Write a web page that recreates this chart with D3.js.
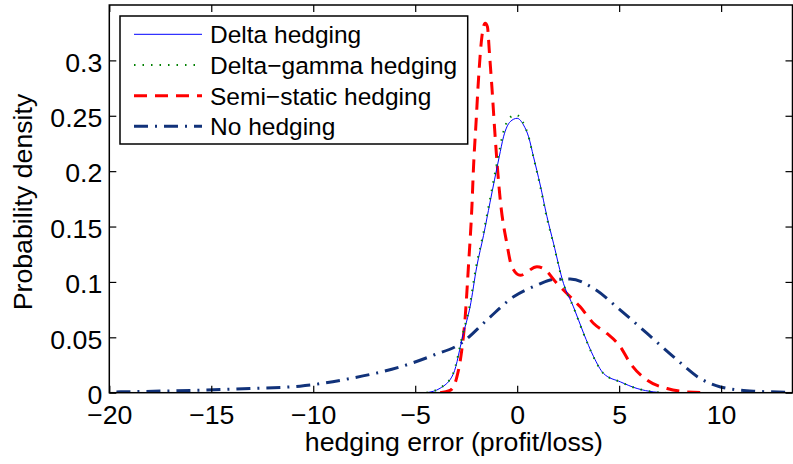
<!DOCTYPE html>
<html>
<head>
<meta charset="utf-8">
<script src="https://cdn.jsdelivr.net/npm/d3@7"></script>
<style>
  body { margin: 0; background: #fff; }
  svg { display: block; font-family: "Liberation Sans", Arial, Helvetica, sans-serif; }
</style>
</head>
<body>
<div id="chart"></div>
<script>
// density curves (x = hedging error, y = density)
var deltaX = [-4.45, -3.78, -3.13, -2.64, -2.31, -1.98, -1.65, -1.33, -0.88, -0.67, -0.34, 0, 0.31, 0.56, 0.8, 1.13, 1.46, 1.78, 2.27, 2.76, 3.26, 3.75, 4.24, 5.06, 5.88, 6.7, 7.3];
var deltaY = [0, 0.004, 0.017, 0.0535, 0.0775, 0.114, 0.142, 0.172, 0.213, 0.231, 0.2447, 0.2477, 0.2417, 0.231, 0.213, 0.1875, 0.159, 0.135, 0.0987, 0.0775, 0.0535, 0.0324, 0.0173, 0.0098, 0.0038, 0.0007, 0];

var gammaX = [-4.45, -3.8, -3.15, -2.66, -2.34, -2.01, -1.68, -1.36, -0.92, -0.71, -0.38, -0.06, 0.27, 0.53, 0.78, 1.11, 1.44, 1.77, 2.26, 2.75, 3.25, 3.74, 4.23, 5.05, 5.87, 6.7, 7.3];
var gammaY = [0, 0.004, 0.017, 0.0535, 0.0775, 0.114, 0.142, 0.172, 0.214, 0.233, 0.248, 0.251, 0.2445, 0.233, 0.214, 0.188, 0.159, 0.135, 0.0987, 0.0775, 0.0535, 0.0324, 0.0173, 0.0098, 0.0038, 0.0007, 0];

var semiX = [-3.78, -3.29, -2.96, -2.72, -2.55, -2.39, -2.22, -2.14, -2.01, -1.9, -1.73, -1.57, -1.46, -1.36, -1.24, -1.08, -0.83, -0.51, -0.26, 0.15, 0.97, 1.29, 1.95, 2.6, 3.09, 3.75, 4.4, 5.06, 5.55, 6.37, 7.35, 8.33, 9.3];
var semiY = [0, 0.002, 0.014, 0.038, 0.068, 0.114, 0.168, 0.204, 0.246, 0.282, 0.3215, 0.3336, 0.3305, 0.3065, 0.276, 0.231, 0.174, 0.135, 0.1137, 0.106, 0.1137, 0.112, 0.0987, 0.0866, 0.0775, 0.0625, 0.0535, 0.0414, 0.0264, 0.0113, 0.0038, 0.0007, 0];

var noneX = [-19.65, -15.56, -13.1, -10.65, -8.2, -5.74, -4.1, -2.8, -1.49, -0.18, 0.97, 1.78, 2.6, 3.75, 5.06, 6.37, 7.67, 8.98, 9.97, 11.6, 13.2];
var noneY = [0.0007, 0.0023, 0.0038, 0.0059, 0.0128, 0.0233, 0.0339, 0.0440, 0.0655, 0.0866, 0.0971, 0.1023, 0.1026, 0.0941, 0.0745, 0.0535, 0.0324, 0.0128, 0.0052, 0.0014, 0.0005];

var xTicks = [-20, -15, -10, -5, 0, 5, 10];
var yTicks = [0, 0.05, 0.1, 0.15, 0.2, 0.25, 0.3];
var seriesNames = ["Delta hedging", "Delta\u2212gamma hedging", "Semi\u2212static hedging", "No hedging"];

var width = 793, height = 464;
var plotLeft = 109.3, plotRight = 792.5, plotTop = 5, plotBottom = 392.7;

var svg = d3.select("#chart").append("svg")
  .attr("width", width)
  .attr("height", height);

var x = d3.scaleLinear().domain([-20, 13.5]).range([plotLeft, plotRight]);
var y = d3.scaleLinear().domain([0, 0.35]).range([plotBottom, plotTop]);

// curves
var series = [
  { name: seriesNames[0], xs: deltaX, ys: deltaY, color: "#0000ff", width: 1, dash: null },
  { name: seriesNames[1], xs: gammaX, ys: gammaY, color: "#008000", width: 2, dash: "1.5,7" },
  { name: seriesNames[2], xs: semiX, ys: semiY, color: "#ff0000", width: 3, dash: "13,8" },
  { name: seriesNames[3], xs: noneX, ys: noneY, color: "#11327a", width: 3, dash: "14,7,2,7" }
];

var line = d3.line()
  .x(function(d) { return x(d[0]); })
  .y(function(d) { return y(d[1]); })
  .curve(d3.curveMonotoneX);

var plot = svg.append("g");
plot.append("clipPath").attr("id", "clip")
  .append("rect").attr("x", plotLeft).attr("y", plotTop)
  .attr("width", plotRight - plotLeft).attr("height", plotBottom - plotTop);

// draw navy first, red, then blue and green on top
[3, 2, 0, 1].forEach(function(i) {
  var s = series[i];
  plot.append("path")
    .datum(d3.zip(s.xs, s.ys))
    .attr("clip-path", "url(#clip)")
    .attr("fill", "none")
    .attr("stroke", s.color)
    .attr("stroke-width", s.width)
    .attr("stroke-dasharray", s.dash)
    .attr("d", line);
});

// axes
var fmt = function(d) { return d < 0 ? "\u2212" + Math.abs(d) : String(d); };

svg.append("g")
  .attr("transform", "translate(0," + plotBottom + ")")
  .call(d3.axisBottom(x).tickValues(xTicks).tickFormat(fmt).tickSize(-7).tickPadding(12));

svg.append("g")
  .attr("transform", "translate(0," + plotTop + ")")
  .call(d3.axisTop(x).tickValues(xTicks).tickFormat("").tickSize(-7));

var yAxis = svg.append("g")
  .attr("transform", "translate(" + plotLeft + ",0)")
  .call(d3.axisLeft(y).tickValues(yTicks).tickFormat(function(d) { return String(+d.toFixed(2)); }).tickSize(-7).tickPadding(7));

svg.append("g")
  .attr("transform", "translate(" + plotRight + ",0)")
  .call(d3.axisRight(y).tickValues(yTicks).tickFormat("").tickSize(-7));

svg.selectAll(".domain").remove();
svg.selectAll(".tick line").attr("stroke", "#000").attr("stroke-width", 1.2);
svg.selectAll(".tick text")
  .attr("fill", "#000")
  .style("font-size", "26.7px")
  .style("font-family", "'Liberation Sans', Arial, sans-serif");
yAxis.selectAll(".tick text").attr("dy", "0.4em");

// frame
svg.append("rect")
  .attr("x", plotLeft).attr("y", plotTop)
  .attr("width", plotRight - plotLeft).attr("height", plotBottom - plotTop)
  .attr("fill", "none")
  .attr("stroke", "#000")
  .attr("stroke-width", 1.5);

// axis labels
svg.append("text")
  .attr("x", (plotLeft + plotRight) / 2 + 3)
  .attr("y", 451)
  .attr("text-anchor", "middle")
  .style("font-size", "26.7px")
  .text("hedging error (profit/loss)");

svg.append("text")
  .attr("transform", "translate(32," + 202 + ") rotate(-90)")
  .attr("text-anchor", "middle")
  .style("font-size", "26.7px")
  .text("Probability density");

// legend
var legend = svg.append("g");
legend.append("rect")
  .attr("x", 120).attr("y", 16)
  .attr("width", 347.7).attr("height", 128)
  .attr("fill", "#fff")
  .attr("stroke", "#000")
  .attr("stroke-width", 1.5);

var rowY = [34.3, 65, 95.7, 126.3];
series.forEach(function(s, i) {
  legend.append("line")
    .attr("x1", 134).attr("x2", 202)
    .attr("y1", rowY[i]).attr("y2", rowY[i])
    .attr("stroke", s.color)
    .attr("stroke-width", s.width)
    .attr("stroke-dasharray", s.dash);
  legend.append("text")
    .attr("x", 210)
    .attr("y", rowY[i] + 8.8)
    .style("font-size", "24.5px")
    .text(s.name);
});
</script>
</body>
</html>
